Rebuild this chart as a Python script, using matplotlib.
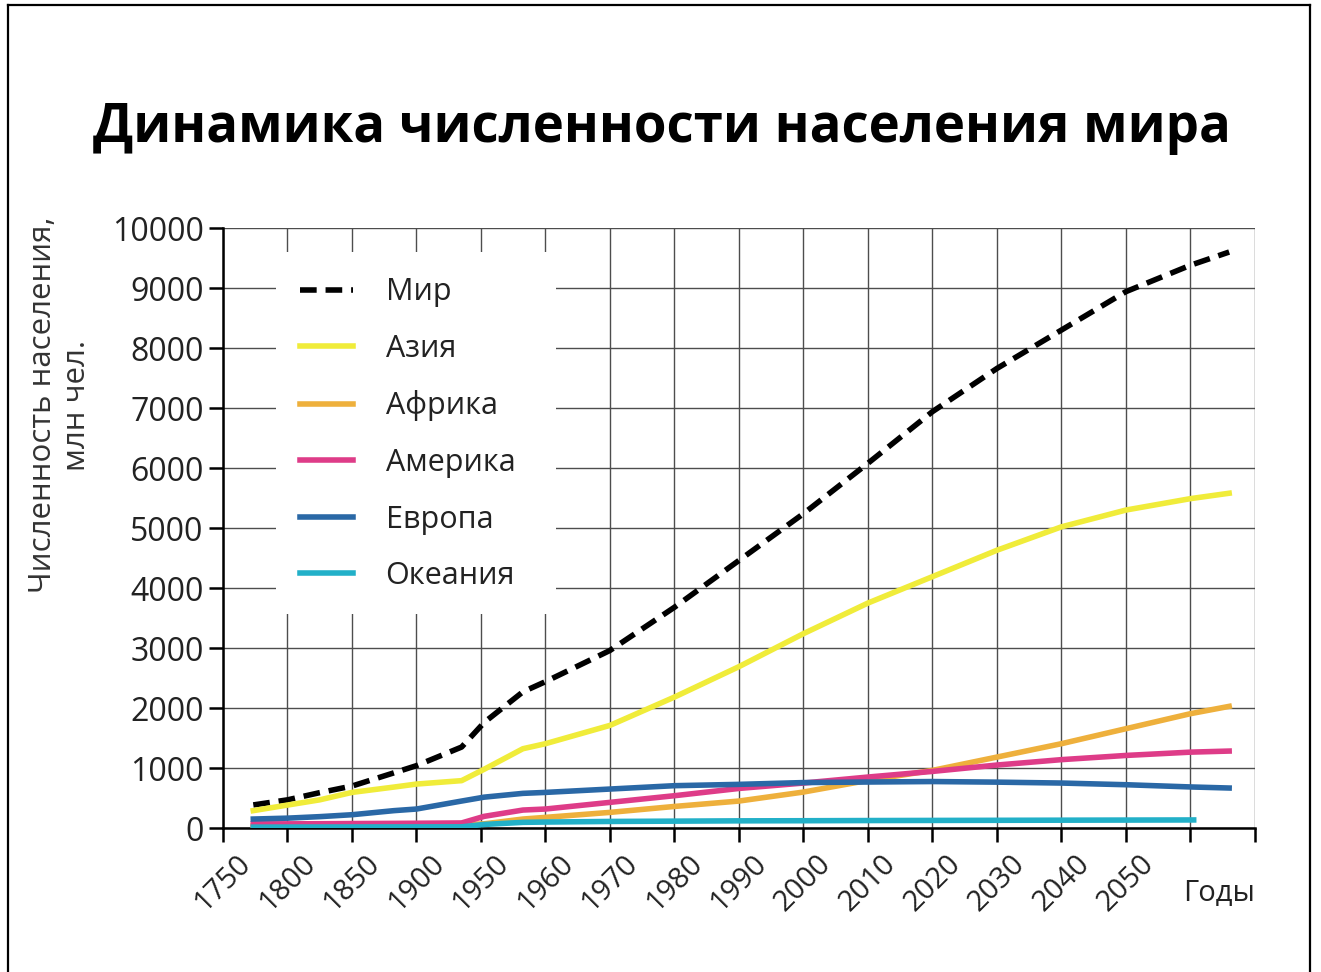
import matplotlib.pyplot as plt
from matplotlib.lines import Line2D
from matplotlib.patches import Rectangle

# Axis categories (evenly spaced, not to scale)
year_labels = ["1750", "1800", "1850", "1900", "1950", "1960", "1970", "1980",
               "1990", "2000", "2010", "2020", "2030", "2040", "2050", "", ""]

# Data positions along the category axis
x_pos = [0.47, 1.0, 1.5, 2.0, 2.65, 3.0, 3.7, 4.05, 4.65, 5.0, 6, 7, 8,
         9, 10, 11, 12, 13, 14, 15, 15.6]

world = [385, 470, 590, 700, 920, 1040, 1350, 1760, 2270, 2440, 2960, 3680,
         4460, 5240, 6080, 6940, 7660, 8300, 8940, 9380, 9600]
asia = [290, 383, 470, 594, 683, 733, 790, 980, 1322, 1406, 1711, 2183,
        2690, 3240, 3750, 4190, 4630, 5020, 5300, 5490, 5580]
africa = [40, 40, 42, 45, 48, 50, 55, 70, 150, 178, 261, 360,
          450, 600, 794, 961, 1183, 1406, 1656, 1906, 2028]
america = [70, 70, 72, 75, 78, 80, 85, 195, 300, 317, 428, 539,
           660, 750, 850, 944, 1050, 1140, 1210, 1265, 1283]
europe = [150, 165, 190, 222, 290, 317, 450, 515, 578, 594, 650, 706,
          728, 758, 767, 775, 765, 750, 722, 685, 667]

oceania_x = [0.47, 3.7, 4.05, 4.65, 5, 6, 7, 8, 9, 10, 11, 12, 13, 14, 15.05]
oceania = [15, 20, 60, 95, 100, 110, 115, 120, 122, 125, 127, 129, 131, 133, 135]

names = ["Мир", "Азия", "Африка", "Америка", "Европа", "Океания"]
colors = ["#000000", "#f0ec3a", "#eeb03c", "#de3c88", "#2a68a6", "#22b0c8"]

plt.rcParams['font.family'] = ['Open Sans', 'DejaVu Sans']

fig = plt.figure(figsize=(13.21, 9.72), dpi=100)
ax = fig.add_axes([0.1688, 0.1481, 0.7812, 0.6173])

# title
fig.text(0.501, 1 - 128 / 972, "Динамика численности населения мира",
         ha='center', va='center', fontsize=38, fontweight='bold', color='black')

# slide frame
for xs, ys in [([8 / 1321, 8 / 1321], [0, 1 - 5 / 972]),
               ([8 / 1321, 1310 / 1321], [1 - 5 / 972, 1 - 5 / 972]),
               ([1310 / 1321, 1310 / 1321], [0, 1 - 5 / 972])]:
    fig.add_artist(Line2D(xs, ys, color='black', lw=1.6))

# lines
lw = 4.0
ax.plot(x_pos, world, color=colors[0], lw=lw, linestyle=(0, (3.0, 1.6)), label=names[0], zorder=3)
ax.plot(x_pos, asia, color=colors[1], lw=lw, label=names[1], zorder=3)
ax.plot(x_pos, africa, color=colors[2], lw=lw, label=names[2], zorder=3)
ax.plot(x_pos, america, color=colors[3], lw=lw, label=names[3], zorder=3)
ax.plot(x_pos, europe, color=colors[4], lw=lw, label=names[4], zorder=3)
ax.plot(oceania_x, oceania, color=colors[5], lw=lw, label=names[5], zorder=3)

ax.set_xlim(0, len(year_labels) - 1)
ax.set_ylim(0, 10000)
ax.set_xticks(range(len(year_labels)))
ax.set_xticklabels(year_labels, rotation=45, ha='center', fontsize=21, color='#222222')
ax.set_yticks(range(0, 10001, 1000))
ax.set_yticklabels([str(v) for v in range(0, 10001, 1000)], fontsize=23, color='#222222')

ax.set_axisbelow(True)
ax.grid(True, color='#4d4d4d', lw=1.0)
for side in ['top', 'right']:
    ax.spines[side].set_visible(False)
for side in ['left', 'bottom']:
    ax.spines[side].set_linewidth(1.8)
    ax.spines[side].set_color('black')
ax.tick_params(axis='both', direction='out', length=10, width=1.8, color='black')
ax.tick_params(axis='y', pad=4)
ax.tick_params(axis='x', pad=5)

# white area behind the legend
ax.add_patch(Rectangle((0.051, 0.357), 0.272, 0.603, transform=ax.transAxes,
                       facecolor='white', edgecolor='none', zorder=1))

leg = ax.legend(loc='upper left', bbox_to_anchor=(0.0746, 0.918), frameon=False,
                fontsize=22, handlelength=1.75, handletextpad=1.05,
                labelspacing=0.87, borderpad=0, borderaxespad=0)
for t in leg.get_texts():
    t.set_color('#222222')

fig.text(60 / 1321, 1 - 405 / 972, "Численность населения,\nмлн чел.", rotation=90,
         ha='center', va='center', multialignment='center', fontsize=22.5,
         color='#333333', linespacing=1.2)
fig.text(1255 / 1321, 1 - 893 / 972, "Годы", ha='right', va='center',
         fontsize=21, color='#222222')

fig.savefig("out.png", dpi=100)
